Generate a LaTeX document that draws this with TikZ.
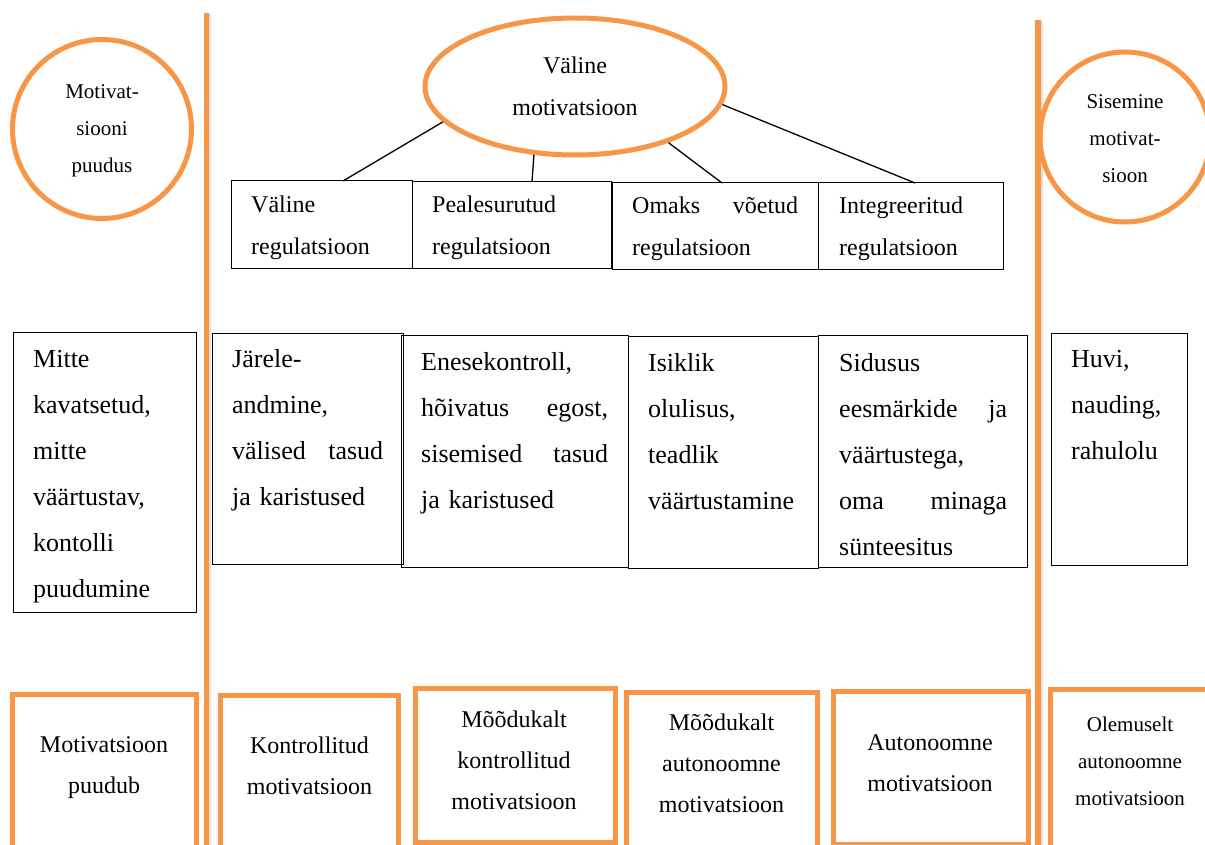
\documentclass[tikz,border=0pt]{standalone}
\usepackage{fontspec}
\setmainfont{Liberation Serif}
\usetikzlibrary{shapes.geometric}
\definecolor{org}{HTML}{F79646}
\newcommand{\jline}[2]{\leavevmode\hbox to\linewidth{#1\hfill #2}}
\begin{document}
\begin{tikzpicture}[x=1pt,y=-1pt,
  orngline/.style={draw=org, line width=5.5pt},
  shadowline/.style={draw=black!12, line width=3pt},
  ring/.style={draw=org, line width=5pt, circle, inner sep=0pt},
  ovalshape/.style={draw=org, line width=5pt, ellipse, inner sep=0pt},
  ringtxt/.style={inner sep=0pt, anchor=base, align=center, text width=150pt,
     font={\fontsize{21}{37}\selectfont}},
  ovaltxt/.style={inner sep=0pt, anchor=base, align=center, text width=200pt,
     font={\fontsize{24}{42}\selectfont}},
  regbox/.style={draw=black, line width=1pt, rectangle, inner sep=0pt, outer sep=0pt, anchor=north west},
  obox/.style={draw=org, line width=5pt, rectangle, inner sep=0pt, outer sep=0pt, anchor=north west},
  regtxt/.style={inner sep=0pt, anchor=base west, align=left,
     font={\fontsize{24}{42}\selectfont}},
  bodytxt/.style={inner sep=0pt, anchor=base west, align=left,
     font={\fontsize{26}{46}\selectfont}},
  btmtxt/.style={inner sep=0pt, anchor=base, align=center, text width=175pt,
     font={\fontsize{24}{41}\selectfont}},
  smalltxt/.style={inner sep=0pt, anchor=base, align=center, text width=150pt,
     font={\fontsize{21}{37}\selectfont}},
  conn/.style={draw=black, line width=1.3pt}]
\clip (0,0) rectangle (1205,845);
\fill[white] (0,0) rectangle (1205,845);

% separators
\draw[shadowline] (209.5,14) -- (209.5,850);
\draw[orngline] (206.3,13) -- (206.3,850);
\draw[shadowline] (1041,21) -- (1041,850);
\draw[orngline] (1037.8,20) -- (1037.8,850);

% circles and ellipse
\node[ring, minimum size=179pt] (c0) at (102,129) {};
\node[ringtxt] (c0t) at (102,99) {Motivat-\\siooni\\puudus};
\node[ring, minimum size=170pt] (c1) at (1125,137) {};
\node[ringtxt] (c1t) at (1125,109) {Sisemine\\motivat-\\sioon};
\node[ovalshape, minimum width=300pt, minimum height=137pt] (e) at (575,86.5) {};
\node[ovaltxt] (et) at (575,74) {Väline\\motivatsioon};

% regulation boxes
\node[regbox, minimum width=181pt, minimum height=87pt] (t1) at (231,181) {};
\node[regbox, minimum width=199pt, minimum height=86pt] (t2) at (412,182) {};
\node[regbox, minimum width=206pt, minimum height=86pt] (t3) at (612,183) {};
\node[regbox, minimum width=185pt, minimum height=86pt] (t4) at (818,183) {};

\node[regtxt, text width=141pt] (t1t) at (251,213) {Väline\\regulatsioon};
\node[regtxt, text width=159pt] (t2t) at (432,213) {Pealesurutud\\regulatsioon};
\node[regtxt, text width=166pt] (t3t) at (632,214) {\jline{Omaks}{võetud}\\regulatsioon};
\node[regtxt, text width=145pt] (t4t) at (839,214) {Integreeritud\\regulatsioon};

% connectors
\draw[conn] (e.195) -- ([xshift=21.5pt]t1.north);
\draw[conn] (e.239) -- ([xshift=20.5pt]t2.north);
\draw[conn] (e.-31) -- ([xshift=7pt]t3.north);
\draw[conn] (e.-7.5) -- ([xshift=4.5pt]t4.north);

% description boxes
\node[regbox, minimum width=183pt, minimum height=280pt] (m0) at (13,332) {};
\node[regbox, minimum width=191pt, minimum height=231pt] (m1) at (212,333) {};
\node[regbox, minimum width=227pt, minimum height=232pt] (m2) at (401,335) {};
\node[regbox, minimum width=190pt, minimum height=232pt] (m3) at (628,336) {};
\node[regbox, minimum width=209pt, minimum height=232pt] (m4) at (818,335) {};
\node[regbox, minimum width=136pt, minimum height=232pt] (m5) at (1051,333) {};

\node[bodytxt, text width=143pt] (m0t) at (33,367) {Mitte\\kavatsetud,\\mitte\\väärtustav,\\kontolli\\puudumine};
\node[bodytxt, text width=151pt] (m1t) at (232,367) {Järele-\\andmine,\\\jline{välised}{tasud}\\ja karistused};
\node[bodytxt, text width=187pt] (m2t) at (421,370) {Enesekontroll,\\\jline{hõivatus}{egost,}\\\jline{sisemised}{tasud}\\ja karistused};
\node[bodytxt, text width=152pt] (m3t) at (648,371) {Isiklik\\olulisus,\\teadlik\\väärtustamine};
\node[bodytxt, text width=168pt] (m4t) at (839,371) {Sidusus\\\jline{eesmärkide}{ja}\\väärtustega,\\\jline{oma}{minaga}\\sünteesitus};
\node[bodytxt, text width=96pt] (m5t) at (1071,367) {Huvi,\\nauding,\\rahulolu};

% motivation type boxes
\node[obox, minimum width=183.5pt, minimum height=170pt] (b0) at (12.5,694) {};
\node[obox, minimum width=178pt, minimum height=170pt] (b1) at (220.5,695) {};
\node[obox, minimum width=200pt, minimum height=154pt] (b2) at (415,688.5) {};
\node[obox, minimum width=191pt, minimum height=170pt] (b3) at (626.5,692) {};
\node[obox, minimum width=195pt, minimum height=153pt] (b4) at (833,691.5) {};
\node[obox, minimum width=175pt, minimum height=170pt] (b5) at (1050.5,689.5) {};

\node[btmtxt] (b0t) at (104,752) {Motivatsioon\\puudub};
\node[btmtxt] (b1t) at (309.5,753) {Kontrollitud\\motivatsioon};
\node[btmtxt] (b2t) at (514,727) {Mõõdukalt\\kontrollitud\\motivatsioon};
\node[btmtxt] (b3t) at (721.5,730) {Mõõdukalt\\autonoomne\\motivatsioon};
\node[btmtxt] (b4t) at (930,750) {Autonoomne\\motivatsioon};
\node[smalltxt] (b5t) at (1130,731) {Olemuselt\\autonoomne\\motivatsioon};
\end{tikzpicture}
\end{document}
